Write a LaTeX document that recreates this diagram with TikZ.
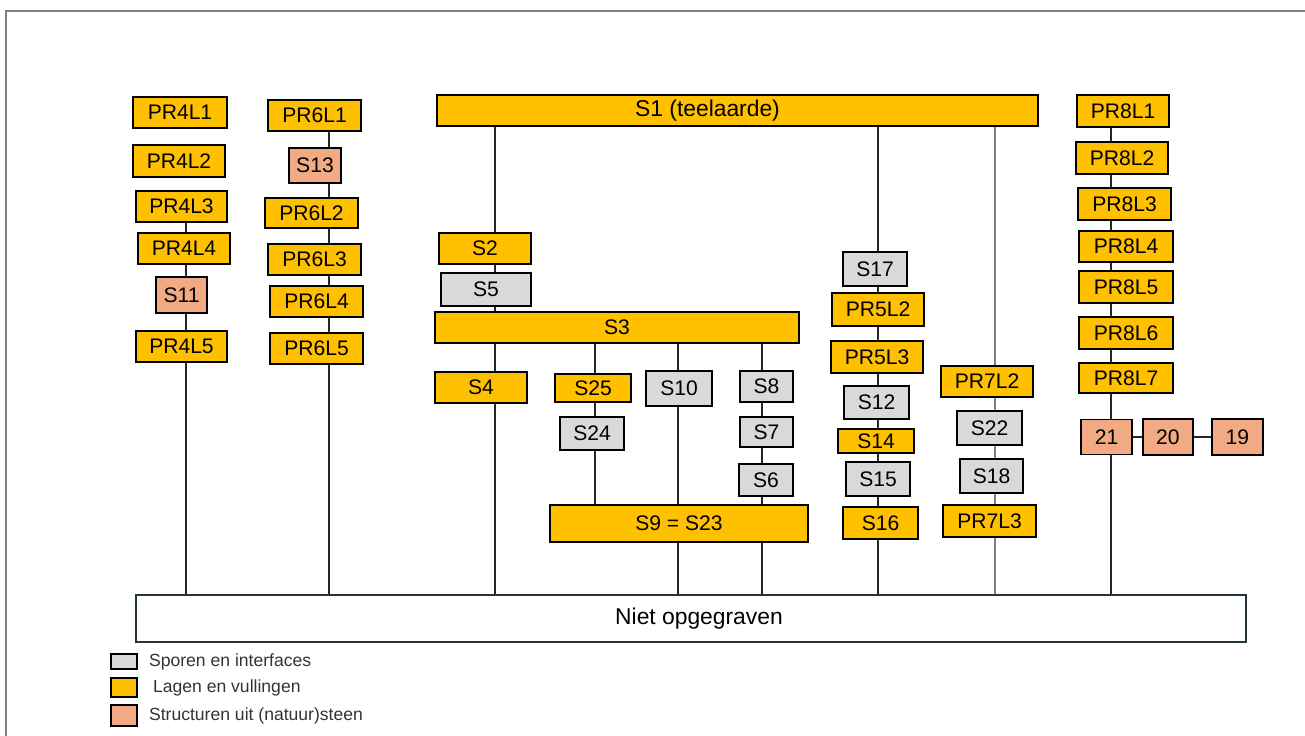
\documentclass[tikz,border=0pt]{standalone}
\usepackage{fontspec}
\setmainfont{Liberation Sans}
\usetikzlibrary{positioning,backgrounds}
\definecolor{lagengeel}{HTML}{FFC000}
\definecolor{spoorgrijs}{HTML}{D9D9D9}
\definecolor{steenroze}{RGB}{242,170,132}
\definecolor{nietrand}{HTML}{24343C}

\begin{document}
\begin{tikzpicture}[
				x=0.02cm, y=-0.02cm,
				box/.style = {draw, line width=1.1pt, inner sep=1pt, minimum width=1.84cm, minimum height=.62cm, font=\fontsize{12}{14}\selectfont},
				lagen/.style = {box, fill=lagengeel},
				spoor/.style = {box, fill=spoorgrijs},
				steen/.style = {box, fill=steenroze},
				swatch/.style = {draw, line width=1pt, minimum width=.52cm, inner sep=0pt},
				legtekst/.style = {right=.1cm of #1, text=black!80, font=\fontsize{10}{12}\selectfont},
				lijn/.style = {line width=.9pt, draw=black!85},
			]
			\useasboundingbox (0,0) rectangle (1305,736);
			\draw[gray, line width=.8pt] (6,736) -- (6,11) -- (1305,11);

			% PR4
			\node[lagen, minimum width=1.88cm] (pr4l1) at (180,112.5) {PR4L1};
			\node[lagen, minimum height=.64cm] (pr4l2) at (179,161) {PR4L2};
			\node[lagen, minimum width=1.82cm] (pr4l3) at (181.5,206.5) {PR4L3};
			\node[lagen] (pr4l4) at (184,248.5) {PR4L4};
			\node[steen, minimum width=1.02cm, minimum height=.72cm] (s11) at (181.5,295) {S11};
			\node[lagen, minimum width=1.82cm] (pr4l5) at (181.5,346.5) {PR4L5};

			% PR6
			\node[lagen, minimum width=1.86cm] (pr6l1) at (314.5,115.5) {PR6L1};
			\node[steen, minimum width=1.04cm, minimum height=.7cm] (s13) at (315,165.5) {S13};
			\node[lagen, minimum width=1.86cm, minimum height=.6cm] (pr6l2) at (311.5,213) {PR6L2};
			\node[lagen, minimum width=1.86cm] (pr6l3) at (314.5,259.5) {PR6L3};
			\node[lagen, minimum width=1.86cm] (pr6l4) at (316.5,301.5) {PR6L4};
			\node[lagen, minimum width=1.86cm] (pr6l5) at (316.5,348.5) {PR6L5};

			% S1 en S3
			\node[lagen, minimum width=12.02cm, font=\fontsize{13}{15}\selectfont] (s1) at (737.5,110.5) {S1 (teelaarde)\hspace*{1.2cm}};
			\node[lagen] (s2) at (485,248.5) {S2};
			\node[spoor, minimum width=1.8cm, minimum height=.66cm] (s5) at (486,289.5) {S5};
			\node[lagen, minimum width=7.28cm] (s3) at (617,327.5) {S3};
			\node[lagen] (s4) at (481,387.5) {S4};
			\node[lagen, minimum width=1.52cm, minimum height=.56cm] (s25) at (593,388) {S25};
			\node[spoor, minimum width=1.28cm, minimum height=.66cm] (s24) at (592,433.5) {S24};
			\node[spoor, minimum width=1.32cm, minimum height=.7cm] (s10) at (679,388.5) {S10};
			\node[spoor, minimum width=1.06cm] (s8) at (766.5,386.5) {S8};
			\node[spoor, minimum width=1.06cm, minimum height=.6cm] (s7) at (766.5,432) {S7};
			\node[spoor, minimum width=1.08cm, minimum height=.64cm] (s6) at (766,480) {S6};
			\node[lagen, minimum width=5.16cm, minimum height=.74cm] (s9) at (679,523.5) {S9 = S23};

			% PR5
			\node[spoor, minimum width=1.28cm, minimum height=.68cm] (s17) at (875,269) {S17};
			\node[lagen, minimum height=.66cm] (pr5l2) at (878,309.5) {PR5L2};
			\node[lagen, minimum height=.64cm] (pr5l3) at (877,357) {PR5L3};
			\node[spoor, minimum width=1.3cm, minimum height=.66cm] (s12) at (876.5,402.5) {S12};
			\node[lagen, minimum width=1.52cm, minimum height=.48cm] (s14) at (876,441) {S14};
			\node[spoor, minimum width=1.28cm, minimum height=.68cm] (s15) at (878,479) {S15};
			\node[lagen, minimum width=1.5cm, minimum height=.64cm] (s16) at (880.5,523) {S16};

			% PR7
			\node[lagen] (pr7l2) at (987,381.5) {PR7L2};
			\node[spoor, minimum width=1.3cm, minimum height=.68cm] (s22) at (989.5,428) {S22};
			\node[spoor, minimum width=1.26cm, minimum height=.68cm] (s18) at (991.5,476) {S18};
			\node[lagen, minimum width=1.86cm, minimum height=.64cm] (pr7l3) at (989.5,521) {PR7L3};

			% PR8
			\node[lagen, minimum height=.64cm] (pr8l1) at (1123,111) {PR8L1};
			\node[lagen, minimum height=.64cm] (pr8l2) at (1122,158) {PR8L2};
			\node[lagen, minimum width=1.86cm, minimum height=.64cm] (pr8l3) at (1124.5,204) {PR8L3};
			\node[lagen, minimum width=1.88cm] (pr8l4) at (1126,246.5) {PR8L4};
			\node[lagen, minimum width=1.88cm, minimum height=.64cm] (pr8l5) at (1126,287) {PR8L5};
			\node[lagen, minimum width=1.88cm, minimum height=.64cm] (pr8l6) at (1126,333) {PR8L6};
			\node[lagen, minimum width=1.88cm, minimum height=.6cm] (pr8l7) at (1126,378) {PR8L7};
			\node[steen, minimum width=1.02cm, minimum height=.7cm] (n21) at (1106.5,437) {21};
			\node[steen, minimum width=1cm, minimum height=.72cm, right=.18cm of n21] (n20) {20};
			\node[steen, minimum width=1.02cm, minimum height=.72cm, right=.34cm of n20] (n19) {19};

			\node[box, draw=nietrand, fill=white, minimum width=22.2cm, minimum height=.94cm, font=\fontsize{13}{15}\selectfont] (niet) at (691,618.5) {\hspace*{.32cm}Niet opgegraven};

			% legenda
			\node[swatch, fill=spoorgrijs, minimum height=.3cm] (leg1) at (124,661.5) {};
			\node[swatch, fill=lagengeel, minimum height=.38cm] (leg2) at (124,687.5) {};
			\node[swatch, fill=steenroze, minimum height=.42cm] (leg3) at (124,715.5) {};
			\node[legtekst=leg1] (legtxt1) {Sporen en interfaces};
			\node[legtekst=leg2, xshift=.08cm] (legtxt2) {Lagen en vullingen};
			\node[legtekst=leg3] (legtxt3) {Structuren uit (natuur)steen};

			\coordinate (kpr4) at (186,0);
			\coordinate (kpr6) at (329,0);
			\coordinate (ks2) at (495,0);
			\coordinate (ks25) at (595,0);
			\coordinate (ks10) at (678,0);
			\coordinate (ks8) at (762,0);
			\coordinate (kpr5) at (878,0);
			\coordinate (kpr7) at (995,0);
			\coordinate (kpr8) at (1111,0);

			\begin{pgfonlayer}{background}
				\draw[lijn] (pr4l3 -| kpr4) -- (niet.north -| kpr4);
				\draw[lijn] (pr6l1 -| kpr6) -- (niet.north -| kpr6);
				\draw[lijn] (s1 -| ks2) -- (niet.north -| ks2);
				\draw[lijn] (s3 -| ks25) -- (s9 -| ks25);
				\draw[lijn] (s3 -| ks10) -- (niet.north -| ks10);
				\draw[lijn] (s3 -| ks8) -- (niet.north -| ks8);
				\draw[lijn] (s1 -| kpr5) -- (niet.north -| kpr5);
				\draw[line width=.6pt, gray] (s1 -| kpr7) -- (niet.north -| kpr7);
				\draw[lijn] (pr8l1 -| kpr8) -- (niet.north -| kpr8);
				\draw[lijn] (n21) -- (n20) -- (n19);
			\end{pgfonlayer}
		\end{tikzpicture}
\end{document}
